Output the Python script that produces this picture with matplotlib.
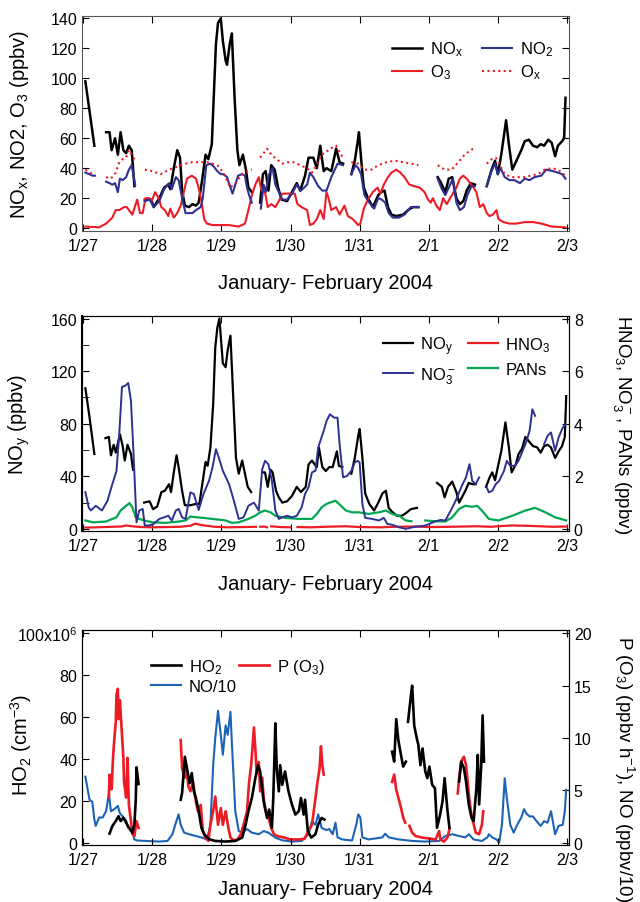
import numpy as np
import matplotlib
matplotlib.use("Agg")
import matplotlib.pyplot as plt

plt.rcParams['font.family'] = ['Liberation Sans', 'DejaVu Sans']
plt.rcParams['mathtext.default'] = 'regular'

# ---------------- panel 1: NOx, NO2, O3, Ox (ppbv), x in days since 1/27
nox_t = [[0.03, 0.16],
         [0.33, 0.38, 0.41, 0.46, 0.50, 0.54, 0.58, 0.62, 0.66, 0.70, 0.74],
         [0.89, 0.98, 1.02, 1.10, 1.17, 1.23, 1.26, 1.31, 1.36, 1.40, 1.43, 1.47, 1.53, 1.58, 1.63, 1.67, 1.72, 1.77,
          1.81, 1.86, 1.89, 1.92, 1.95, 1.99, 2.02, 2.06, 2.08, 2.12, 2.15, 2.19, 2.23, 2.26, 2.31, 2.35, 2.39, 2.44],
         [2.56, 2.60, 2.64, 2.68, 2.72, 2.77, 2.82, 2.87, 2.95, 3.02, 3.09, 3.14, 3.21, 3.26, 3.33, 3.38, 3.43, 3.48,
          3.52, 3.59, 3.66, 3.71, 3.76],
         [3.88, 3.93, 3.97, 3.99, 4.02, 4.06, 4.12, 4.19, 4.27, 4.31, 4.36, 4.41, 4.46, 4.53, 4.63, 4.70, 4.77, 4.85],
         [5.13, 5.18, 5.24, 5.29, 5.34, 5.40, 5.45, 5.50, 5.55, 5.61, 5.67],
         [5.84, 5.91, 5.96, 6.00, 6.05, 6.12, 6.16, 6.21, 6.27, 6.34, 6.39, 6.45, 6.51, 6.57, 6.62, 6.67, 6.73, 6.78,
          6.83, 6.87, 6.93, 6.96, 6.98]]
nox_v = [[98, 55],
         [64, 64, 52, 60, 49, 64, 52, 50, 55, 52, 28],
         [19, 19, 14, 20, 27, 29, 26, 40, 52, 47, 25, 15, 14, 16, 15, 17, 32, 49,
          46, 56, 89, 123, 137, 140, 125, 112, 109, 123, 130, 87, 52, 42, 49, 40, 27, 24],
         [17, 36, 38, 25, 42, 39, 27, 19, 18, 24, 30, 25, 35, 47, 47, 40, 55, 38,
          40, 38, 53, 44, 43],
         [36, 45, 57, 64, 47, 27, 20, 14, 22, 24, 25, 14, 9, 8, 9, 12, 14, 14],
         [34, 30, 24, 33, 34, 20, 16, 18, 25, 30, 29],
         [28, 39, 45, 36, 49, 72, 56, 39, 45, 52, 58, 59, 55, 54, 56, 55, 59, 57,
          48, 55, 58, 60, 87]]

no2_t = [[0.03, 0.09, 0.13, 0.17],
         [0.33, 0.38, 0.42, 0.46, 0.50, 0.53, 0.57, 0.62, 0.66, 0.70, 0.75],
         [0.89, 0.96, 1.02, 1.10, 1.17, 1.24, 1.28, 1.34, 1.38, 1.43, 1.48, 1.58, 1.63, 1.70, 1.73, 1.78, 1.84, 1.89,
          1.94, 1.99, 2.03, 2.08, 2.13, 2.16, 2.20, 2.24, 2.30, 2.34, 2.37, 2.40, 2.44],
         [2.57, 2.61, 2.64, 2.69, 2.74, 2.78, 2.83, 2.88, 2.95, 3.02, 3.09, 3.15, 3.24, 3.28, 3.33, 3.40, 3.46, 3.52,
          3.59, 3.68, 3.76],
         [3.88, 3.94, 3.98, 4.02, 4.07, 4.14, 4.21, 4.27, 4.32, 4.37, 4.42, 4.48, 4.57, 4.65, 4.74, 4.80, 4.85],
         [5.13, 5.19, 5.24, 5.30, 5.35, 5.40, 5.45, 5.51, 5.56, 5.62, 5.67],
         [5.84, 5.90, 5.96, 6.00, 6.04, 6.10, 6.17, 6.24, 6.32, 6.39, 6.46, 6.53, 6.63, 6.70, 6.80, 6.87, 6.93, 6.98]]
no2_v = [[37, 36, 35, 35],
         [31, 30, 29, 30, 24, 33, 32, 34, 39, 42, 29],
         [18, 19, 14, 18, 26, 30, 26, 34, 32, 20, 10, 10, 12, 14, 20, 42, 43, 41,
          38, 36, 36, 34, 27, 23, 29, 35, 36, 35, 27, 22, 17],
         [13, 29, 24, 36, 40, 29, 24, 19, 19, 23, 29, 25, 29, 37, 34, 28, 25, 25,
          34, 43, 42],
         [36, 42, 40, 36, 22, 17, 13, 20, 19, 17, 10, 7, 7, 9, 14, 14, 14],
         [33, 26, 22, 28, 33, 17, 12, 14, 22, 28, 28],
         [28, 37, 43, 36, 40, 34, 32, 32, 30, 33, 32, 34, 35, 39, 38, 37, 36, 33]]

o3_t = [[0.03, 0.23, 0.33, 0.42, 0.47, 0.52, 0.59, 0.63, 0.66, 0.71, 0.78, 0.82, 0.86, 0.90, 0.95, 0.99, 1.04, 1.09,
         1.13, 1.18, 1.23, 1.26, 1.31, 1.36, 1.41, 1.46, 1.50, 1.57, 1.63, 1.67, 1.71, 1.75, 1.79, 1.87, 1.96, 2.11,
         2.25, 2.34, 2.39, 2.44, 2.49, 2.54, 2.58, 2.63, 2.67, 2.72, 2.78, 2.83, 2.88, 2.97, 3.06, 3.10, 3.16, 3.24,
         3.28, 3.33, 3.38, 3.43, 3.48, 3.52, 3.55, 3.59, 3.66, 3.71, 3.78, 3.83, 3.90, 3.98, 4.01, 4.06, 4.12, 4.19,
         4.26, 4.30, 4.35, 4.41, 4.46, 4.53, 4.59, 4.65, 4.72, 4.79, 4.87, 4.94, 4.99, 5.03, 5.06, 5.11, 5.16, 5.21,
         5.26, 5.31, 5.35, 5.40, 5.45, 5.50, 5.55, 5.60, 5.65, 5.69, 5.74, 5.79, 5.84, 5.88, 5.93, 5.98, 6.01, 6.08,
         6.17, 6.27, 6.39, 6.51, 6.63, 6.78, 6.98]]
o3_v = [[1, 0.5, 3, 7, 12, 12, 14, 14, 12, 9, 19, 10, 10, 20, 20, 18, 24, 20,
         14, 12, 8, 13, 7, 10, 15, 25, 33, 35, 33, 27, 18, 6, 3, 2, 2, 2,
         1, 3, 12, 22, 29, 34, 25, 24, 14, 16, 14, 18, 23, 23, 23, 16, 14, 12,
         2, 3, 6, 12, 6, 24, 20, 12, 14, 9, 15, 8, 6, 2, 3, 13, 19, 24,
         27, 23, 29, 34, 37, 39, 37, 34, 29, 28, 27, 24, 19, 17, 20, 15, 12, 20,
         16, 20, 23, 27, 33, 35, 33, 30, 27, 24, 14, 16, 10, 8, 9, 12, 6, 4,
         3, 3, 4, 4, 3, 1, 0.5]]

ox_t = [[0.03, 0.10, 0.16],
        [0.33, 0.40, 0.47, 0.52, 0.57, 0.62, 0.66, 0.70, 0.75],
        [0.89, 1.00, 1.12, 1.24, 1.36, 1.48, 1.58, 1.67, 1.79, 1.87, 1.94, 2.01, 2.08, 2.13, 2.20, 2.30, 2.37, 2.44],
        [2.56, 2.61, 2.66, 2.72, 2.80, 2.88, 2.97, 3.04, 3.14, 3.24, 3.31, 3.38, 3.45, 3.52, 3.57, 3.66, 3.73, 3.76],
        [3.88, 3.98, 4.07, 4.17, 4.27, 4.39, 4.51, 4.63, 4.75, 4.85],
        [5.13, 5.23, 5.33, 5.43, 5.52, 5.64],
        [5.84, 5.91, 5.97, 6.03, 6.10, 6.20, 6.29, 6.39, 6.48, 6.58, 6.68, 6.78, 6.87, 6.98]]
ox_v = [[39, 37, 35],
        [34, 33, 37, 44, 46, 47, 52, 49, 45],
        [39, 38, 36, 39, 41, 43, 44, 44, 44, 43, 42, 38, 32, 27, 30, 36, 38, 39],
        [47, 50, 53, 49, 46, 43, 44, 44, 42, 40, 37, 42, 49, 51, 53, 55, 49, 47],
        [44, 43, 39, 39, 42, 44, 45, 44, 43, 42],
        [42, 39, 39, 44, 49, 53],
        [43, 46, 47, 42, 36, 34, 34, 34, 35, 36, 39, 40, 39, 35]]

# ---------------- panel 2: NOy (left, ppbv); HNO3, NO3-, PANs (right, ppbv)
noy_t = [[0.03, 0.09, 0.16],
         [0.32, 0.37, 0.40, 0.44, 0.47, 0.53, 0.57, 0.60, 0.64, 0.69, 0.72],
         [0.88, 0.96, 1.01, 1.07, 1.13, 1.18, 1.24, 1.27, 1.31, 1.35, 1.38, 1.43, 1.47, 1.55, 1.63, 1.68, 1.73, 1.77,
          1.80, 1.84, 1.88, 1.91, 1.94, 1.97, 2.00, 2.02, 2.06, 2.09, 2.13, 2.17, 2.21, 2.25, 2.30, 2.34, 2.38, 2.43],
         [2.60, 2.63, 2.67, 2.71, 2.74, 2.79, 2.83, 2.88, 2.95, 3.02, 3.09, 3.15, 3.22, 3.26, 3.31, 3.35, 3.38, 3.41,
          3.46, 3.51, 3.56, 3.61, 3.67, 3.70, 3.75],
         [3.88, 3.93, 3.98, 4.00, 4.04, 4.08, 4.14, 4.21, 4.27, 4.33, 4.38, 4.42, 4.47, 4.54, 4.61, 4.67, 4.74, 4.83],
         [5.12, 5.19, 5.23, 5.28, 5.34, 5.40, 5.44, 5.48, 5.53, 5.58, 5.63, 5.68],
         [5.83, 5.88, 5.92, 5.96, 6.00, 6.05, 6.11, 6.16, 6.20, 6.26, 6.30, 6.35, 6.40, 6.46, 6.51, 6.57, 6.62, 6.67,
          6.72, 6.77, 6.83, 6.88, 6.93, 6.97, 6.99]]
noy_v = [[107, 85, 57],
         [69, 70, 56, 64, 58, 72, 63, 52, 64, 57, 45],
         [20, 21, 15, 17, 28, 29, 34, 28, 43, 56, 47, 29, 18, 18, 19, 19, 37, 51,
          48, 62, 95, 138, 153, 160, 140, 126, 123, 136, 147, 100, 54, 42, 52, 42, 32, 28],
         [43, 43, 32, 45, 43, 29, 24, 20, 21, 25, 32, 28, 32, 49, 52, 49, 47, 62,
          47, 44, 47, 47, 59, 48, 47],
         [42, 54, 71, 76, 54, 27, 19, 14, 20, 27, 29, 16, 13, 10, 10, 12, 15, 16],
         [35, 32, 24, 32, 36, 28, 20, 24, 29, 35, 34, 34],
         [32, 39, 43, 37, 47, 59, 81, 62, 43, 49, 57, 61, 70, 66, 63, 62, 58, 63,
          64, 62, 54, 59, 63, 70, 101]]

no3_t = [[0.03, 0.08, 0.11, 0.18, 0.27, 0.35, 0.42, 0.48, 0.52, 0.56, 0.61, 0.65, 0.69, 0.73, 0.77, 0.81, 0.86, 0.89,
          0.95, 1.02, 1.10, 1.17, 1.23, 1.28, 1.34, 1.38, 1.43, 1.48, 1.55, 1.60, 1.67, 1.74, 1.82, 1.87, 1.92, 1.96,
          2.02, 2.11, 2.18, 2.25, 2.32, 2.39, 2.47, 2.54, 2.59, 2.63, 2.68, 2.73, 2.78, 2.83, 2.88, 2.95, 3.02, 3.09,
          3.16, 3.21, 3.26, 3.31, 3.36, 3.40, 3.48, 3.52, 3.57, 3.63, 3.68, 3.71, 3.76, 3.82, 3.88, 3.93, 3.97, 4.00,
          4.04, 4.08, 4.18, 4.28, 4.35, 4.40, 4.47, 4.57, 4.67],
         [4.70, 4.80, 4.94, 5.10, 5.17, 5.24, 5.32, 5.39, 5.44, 5.49, 5.54, 5.59, 5.63, 5.68, 5.73],
         [5.84, 5.87, 5.92, 5.97, 6.02, 6.09, 6.13, 6.18, 6.25, 6.30, 6.36, 6.41, 6.46, 6.50, 6.54],
         [6.67, 6.72, 6.77, 6.83, 6.88, 6.94, 6.98]]
no3_v = [[1.4, 0.8, 0.7, 0.88, 0.7, 1.07, 1.7, 2.2, 3.6, 5.4, 5.45, 5.55, 4.87, 2.7, 0.25, 0.7, 0.76, 0.13,
          0.13, 0.19, 0.38, 0.44, 0.5, 0.32, 0.7, 0.76, 0.44, 0.38, 1.39, 1.33, 0.72, 1.33, 1.83, 2.34, 3.03, 2.72,
          2.21, 1.7, 1.07, 0.38, 0.44, 0.88, 1.0, 0.7, 2.27, 2.59, 2.46, 1.83, 0.7, 0.38, 0.44, 0.5, 0.44, 0.5,
          0.82, 1.33, 1.58, 2.15, 2.21, 3.1, 3.73, 4.1, 4.36, 4.23, 4.23, 3.22, 1.96, 2.02, 2.21, 2.53, 2.59, 2.53,
          0.95, 0.42, 0.38, 0.32, 0.42, 0.19, 0.16, 0.06, 0.0],
         [0.02, 0.08, 0.12, 0.29, 0.34, 0.32, 0.7, 1.07, 1.39, 1.7, 1.96, 2.46, 1.83, 1.7, 1.96],
         [1.58, 1.39, 1.45, 1.7, 1.83, 2.21, 2.59, 2.4, 2.4, 2.59, 2.97, 3.29, 3.73, 4.55, 4.3],
         [3.22, 3.54, 3.67, 2.97, 3.48, 3.85, 3.98]]

pans_t = [[0.03, 0.14, 0.33, 0.42, 0.48, 0.54, 0.62, 0.67, 0.71, 0.76, 0.81, 0.88, 1.00, 1.19, 1.38, 1.48, 1.55, 1.65,
           1.87, 2.06, 2.15, 2.25, 2.39, 2.49, 2.56, 2.63, 2.71, 2.78, 2.92, 3.12, 3.31, 3.38, 3.45, 3.52, 3.58, 3.65,
           3.73, 3.80, 3.89, 3.99, 4.13, 4.28, 4.38, 4.47, 4.57, 4.67, 4.75],
          [4.95, 5.10, 5.24, 5.34, 5.44, 5.53, 5.63, 5.70, 5.77, 5.87, 6.01, 6.21, 6.40, 6.54, 6.69, 6.83, 6.99]]
pans_v = [[0.32, 0.25, 0.28, 0.38, 0.44, 0.7, 0.88, 0.98, 0.82, 0.44, 0.38, 0.32, 0.25, 0.23, 0.28, 0.32, 0.47, 0.44,
           0.38, 0.32, 0.23, 0.25, 0.38, 0.5, 0.63, 0.7, 0.63, 0.5, 0.42, 0.38, 0.38, 0.57, 0.82, 0.95, 1.01, 1.07,
           0.88, 0.7, 0.63, 0.63, 0.57, 0.63, 0.7, 0.57, 0.5, 0.32, 0.29],
          [0.32, 0.29, 0.28, 0.44, 0.76, 0.88, 0.84, 0.88, 0.7, 0.38, 0.32, 0.5, 0.7, 0.8, 0.63, 0.44, 0.32]]

hno3_t = [[0.03, 0.2, 0.4, 0.55, 0.62, 0.7, 0.85, 1.0, 1.2, 1.4, 1.55, 1.62, 1.7, 1.9, 2.1, 2.3, 2.5],
          [2.56, 2.62, 2.66],
          [2.72, 2.85, 3.0],
          [3.1, 3.3, 3.5, 3.8, 4.0, 4.3, 4.5, 4.8, 5.0, 5.3, 5.5, 5.7, 5.9, 6.0, 6.2, 6.4, 6.6, 6.8, 7.0]]
hno3_v = [[0.05, 0.06, 0.08, 0.09, 0.13, 0.1, 0.07, 0.06, 0.07, 0.08, 0.12, 0.2, 0.15, 0.08, 0.06, 0.07, 0.08],
          [0.08, 0.09, 0.06],
          [0.1, 0.07, 0.06],
          [0.07, 0.06, 0.08, 0.1, 0.07, 0.06, 0.08, 0.09, 0.07, 0.08, 0.09, 0.1, 0.08, 0.1, 0.13, 0.12, 0.1, 0.08, 0.09]]

# ---------------- panel 3: HO2 (left, 1e6 cm-3); P(O3), NO/10 (right)
ho2_t = [[0.38, 0.42, 0.47, 0.51, 0.54, 0.58, 0.62, 0.66, 0.71, 0.74, 0.76, 0.77, 0.80],
         [1.41, 1.43, 1.47, 1.50, 1.54, 1.57, 1.60, 1.63, 1.67, 1.71, 1.75, 1.82, 1.91, 2.06, 2.20, 2.30, 2.35, 2.39,
          2.44, 2.49, 2.53, 2.56, 2.61, 2.66, 2.69, 2.73, 2.75, 2.78, 2.80, 2.83, 2.85, 2.88, 2.92, 2.97, 3.02, 3.07,
          3.12, 3.15, 3.19, 3.21, 3.25, 3.30, 3.36, 3.40, 3.45, 3.49],
         [4.47, 4.50, 4.53, 4.56, 4.59, 4.63, 4.67],
         [4.70, 4.74, 4.76, 4.79, 4.82, 4.85, 4.88, 4.91, 4.95, 4.98, 5.01, 5.05, 5.09, 5.12, 5.16, 5.20, 5.23, 5.27,
          5.30],
         [5.44, 5.47, 5.51, 5.54, 5.58, 5.62, 5.65, 5.69, 5.71, 5.73, 5.76, 5.78, 5.80]]
ho2_v = [[4.3, 7.9, 10.3, 12.6, 10.3, 11.8, 9.5, 7.1, 4.7, 8.7, 21, 36, 28],
         [20.5, 23.7, 41, 35.5, 28.4, 33.2, 24.5, 21.3, 15, 7.1, 4, 1.6, 0.8, 0.5, 0.8, 2.4, 8.7, 15,
          21.3, 30.8, 37, 34, 19.7, 11.8, 15.8, 7.1, 21.3, 57, 35.5, 24.5, 37, 27.6, 34, 24.5, 18.2, 13.4,
          15, 21.3, 13.4, 20.5, 5.5, 2.4, 4, 8.7, 11.8, 11],
         [43.4, 38.7, 59, 49, 43.4, 36.3, 38.7],
         [57.7, 69.5, 75, 56, 51, 46.6, 37, 45, 34, 30.8, 36.3, 27.6, 26, 7.1, 12.6, 19.7, 30.8, 15.8,
          7.1],
         [29.2, 38.7, 35.5, 29.2, 18.2, 11.8, 10.3, 26, 41.9, 18.2, 37, 60.8, 38.7]]

po3_t = [[0.37, 0.38, 0.41, 0.43, 0.45, 0.47, 0.48, 0.50, 0.51, 0.53, 0.54, 0.56, 0.58, 0.59, 0.62, 0.64, 0.66, 0.69,
          0.71, 0.74, 0.77, 0.80],
         [1.41, 1.43, 1.47, 1.49, 1.52, 1.55, 1.59, 1.63, 1.66, 1.70, 1.73, 1.77, 1.81, 1.84, 1.88, 1.91, 1.95, 1.99,
          2.02, 2.06, 2.10, 2.13, 2.18, 2.23, 2.28, 2.32, 2.37, 2.40, 2.43, 2.47, 2.49, 2.51, 2.54, 2.56, 2.59, 2.61,
          2.64, 2.68, 2.72, 2.76, 2.82, 2.90, 3.00, 3.10, 3.20, 3.26, 3.31, 3.36, 3.39, 3.42, 3.44, 3.46, 3.48],
         [4.47, 4.50, 4.53, 4.56, 4.60, 4.63, 4.66],
         [4.72, 4.76, 4.81, 4.91, 5.00, 5.10, 5.15, 5.17, 5.22, 5.27, 5.30],
         [5.42, 5.44, 5.47, 5.49, 5.51, 5.54, 5.56, 5.58, 5.61, 5.64, 5.68, 5.73, 5.77, 5.79]]
po3_v = [[4.3, 6.5, 5.1, 8.1, 10, 11.5, 14.1, 14.7, 11.8, 13.6, 12.5, 10.3, 8.1, 5.8, 4.3, 8.1, 3.6, 2.05,
          0.8, 0.63, 2.05, 1.4],
         [9.8, 7.1, 6.2, 7.4, 5.4, 4.9, 5.8, 3.9, 3.0, 3.6, 1.1, 0.47, 0.16, 1.7, 3.0, 4.4, 1.7, 3.3,
          1.7, 3.0, 1.4, 0.47, 0.22, 0.3, 0.8, 1.7, 3.0, 5.8, 7.4, 11, 9.0, 6.6, 7.7, 4.9, 6.2, 4.3,
          3.0, 2.4, 1.4, 0.8, 0.6, 0.5, 0.3, 0.3, 0.35, 1.1, 1.7, 4.2, 5.8, 7.1, 9.2, 7.4, 6.5],
         [5.8, 6.5, 5.05, 4.3, 3.3, 2.4, 1.9],
         [1.6, 0.95, 0.63, 0.47, 0.4, 0.3, 1.1, 0.3, 0.1, 0.47, 1.3],
         [4.7, 6.15, 7.7, 8.0, 8.2, 7.4, 6.15, 4.6, 3.0, 2.05, 0.95, 0.8, 1.7, 3.0]]

no10_t = [[0.03, 0.06, 0.09, 0.13, 0.16, 0.18, 0.23, 0.28, 0.33, 0.37, 0.40, 0.45, 0.50, 0.53, 0.57, 0.62, 0.65, 0.70,
           0.74, 0.78, 0.90, 1.10, 1.22, 1.29, 1.34, 1.38, 1.41, 1.46, 1.53, 1.63, 1.72, 1.79, 1.84, 1.88, 1.91, 1.95,
           1.99, 2.02, 2.06, 2.09, 2.13, 2.15, 2.20, 2.25, 2.30, 2.37, 2.44, 2.54, 2.61, 2.68, 2.78, 2.88, 3.02, 3.16,
           3.26, 3.31, 3.36, 3.40, 3.45, 3.52, 3.56, 3.61, 3.65, 3.68, 3.75, 3.89, 3.95, 3.98, 4.01, 4.04, 4.13, 4.33,
           4.37, 4.42, 4.57, 4.76, 4.94, 5.15, 5.24, 5.34, 5.44, 5.53, 5.58, 5.65, 5.77, 5.85, 5.87, 5.92, 5.98, 6.02,
           6.06, 6.10, 6.13, 6.18, 6.23, 6.28, 6.34, 6.38, 6.41, 6.46, 6.51, 6.56, 6.62, 6.67, 6.72, 6.77, 6.83, 6.88,
           6.94, 6.97, 6.99]]
no10_v = [[6.3, 5.2, 4.1, 3.9, 2.2, 1.6, 2.4, 2.4, 3.0, 4.7, 3.0, 3.2, 3.5, 2.8, 2.5, 2.1, 1.4, 1.3,
           0.3, 0.2, 0.16, 0.1, 0.16, 0.8, 1.9, 2.7, 1.7, 0.95, 0.8, 0.63, 0.47, 0.3, 1.7, 7.4, 10, 12.6,
           10.3, 8.4, 11.2, 10.3, 12.5, 9.6, 3.0, 1.1, 0.95, 1.3, 0.95, 0.8, 1.1, 0.95, 0.47, 0.22, 0.1, 0.16,
           0.8, 2.05, 1.7, 2.7, 1.4, 1.2, 1.3, 0.8, 1.9, 0.5, 0.3, 0.2, 1.7, 2.7, 2.4, 0.5, 0.3, 0.5,
           0.85, 0.5, 0.3, 0.16, 0.1, 0.16, 0.63, 0.8, 0.63, 0.5, 0.8, 0.3, 0.16, 0.5, 0.8, 0.5, 0.3, 0.0,
           1.7, 6.15, 4.3, 1.7, 0.95, 1.7, 2.4, 3.2, 2.8, 2.5, 2.5, 2.05, 1.6, 2.05, 1.9, 3.0, 0.8, 1.6,
           1.7, 3.0, 5.05]]

day_labels = ['1/27', '1/28', '1/29', '1/30', '1/31', '2/1', '2/2', '2/3']

BLACK = '#000000'
RED = '#ed1c24'
NAVY = '#2e3192'
GREEN = '#00a651'
BLUE = '#1b63b5'
LAB = 14.5
TICK = 11.5


def join(ts, vs):
    t, v = [], []
    for a, b in zip(ts, vs):
        t += list(a) + [np.nan]
        v += list(b) + [np.nan]
    return np.array(t, dtype=float), np.array(v, dtype=float)


def style_x(ax):
    ax.set_xlim(-0.02, 7.03)
    ax.set_xticks(range(8))
    ax.set_xticklabels(day_labels)
    ax.tick_params(axis='x', direction='in', top=True, length=5, labelsize=TICK, pad=5)


def legend(ax, handles, x, y, spacing, colsp=1.0):
    ax.legend(handles, [l.get_label() for l in handles], loc='upper left', bbox_to_anchor=(x, y), ncol=2,
              frameon=False, fontsize=12, handlelength=1.8, columnspacing=colsp, handletextpad=0.45,
              labelspacing=spacing, borderpad=0, borderaxespad=0)


fig = plt.figure(figsize=(6.4, 9.03), dpi=100)
L, W, H = 0.128, 0.761, 0.238

# ---------- panel 1
ax1 = fig.add_axes([L, 0.743, W, H])
l_nox, = ax1.plot(*join(nox_t, nox_v), color=BLACK, lw=1.8, label='NO$_x$')
l_o3, = ax1.plot(*join(o3_t, o3_v), color=RED, lw=1.5, label='O$_3$')
l_no2, = ax1.plot(*join(no2_t, no2_v), color=NAVY, lw=1.5, label='NO$_2$')
l_ox, = ax1.plot(*join(ox_t, ox_v), color=RED, lw=1.5, ls=(0, (1, 1.6)), label='O$_x$')
style_x(ax1)
ax1.set_ylim(-2, 141.5)
ax1.set_yticks(range(0, 141, 20))
ax1.tick_params(axis='y', direction='in', right=True, length=5, labelsize=TICK)
for s in ax1.spines.values():
    s.set_color('#555555')
ax1.set_ylabel('NO$_x$, NO2, O$_3$ (ppbv)', fontsize=LAB, va='center')
ax1.yaxis.set_label_coords(-0.129, 0.5)
legend(ax1, [l_nox, l_o3, l_no2, l_ox], 0.637, 0.89, 0.25, 1.2)

# ---------- panel 2
ax2 = fig.add_axes([L, 0.411, W, H])
ax2r = ax2.twinx()
l_noy, = ax2.plot(*join(noy_t, noy_v), color=BLACK, lw=1.6, label='NO$_y$')
l_pan, = ax2r.plot(*join(pans_t, pans_v), color=GREEN, lw=1.6, label='PANs')
l_hno3, = ax2r.plot(*join(hno3_t, hno3_v), color=RED, lw=1.6, label='HNO$_3$')
l_no3, = ax2r.plot(*join(no3_t, no3_v), color=NAVY, lw=1.4, label='NO$_3^-$')
style_x(ax2)
ax2.set_ylim(-1.5, 162)
ax2.set_yticks(range(0, 161, 40))
ax2.set_yticks(range(0, 161, 20), minor=True)
ax2.tick_params(axis='y', which='both', direction='in', length=5, labelsize=TICK)
ax2r.set_ylim(-1.5 / 20, 8.1)
ax2r.set_yticks(range(0, 9, 2))
ax2r.tick_params(axis='y', direction='in', length=5, labelsize=TICK)
ax2.spines['left'].set_linewidth(1.5)
ax2.set_ylabel('NO$_y$ (ppbv)', fontsize=LAB, va='center')
ax2.yaxis.set_label_coords(-0.129, 0.5)
ax2r.set_ylabel('HNO$_3$, NO$_3^-$, PANs (ppbv)', fontsize=13.5, rotation=270, va='center', ha='center')
ax2r.yaxis.set_label_coords(1.109, 0.5)
legend(ax2r, [l_noy, l_no3, l_hno3, l_pan], 0.618, 0.915, 0.5, 0.7)

# ---------- panel 3
ax3 = fig.add_axes([L, 0.063, W, H])
ax3r = ax3.twinx()
l_no10, = ax3r.plot(*join(no10_t, no10_v), color=BLUE, lw=1.5, label='NO/10')
l_ho2, = ax3.plot(*join(ho2_t, ho2_v), color=BLACK, lw=1.9, label='HO$_2$')
l_po3, = ax3r.plot(*join(po3_t, po3_v), color=RED, lw=1.9, label='P (O$_3$)')
ax3.set_zorder(ax3r.get_zorder() + 1)
ax3.patch.set_visible(False)
style_x(ax3)
ax3.set_ylim(-1.2, 101.5)
ax3.set_yticks(range(0, 101, 20))
ax3.set_yticklabels(['0', '20', '40', '60', '80', '100x10$^6$'])
ax3.tick_params(axis='y', direction='in', length=5, labelsize=TICK)
ax3r.set_ylim(-1.2 / 5, 101.5 / 5)
ax3r.set_yticks(range(0, 21, 5))
ax3r.tick_params(axis='y', direction='in', length=5, labelsize=TICK)
ax3.set_ylabel('HO$_2$ (cm$^{-3}$)', fontsize=LAB, va='center')
ax3.yaxis.set_label_coords(-0.125, 0.47)
ax3r.set_ylabel('P (O$_3$) (ppbv h$^{-1}$), NO (ppbv/10)', fontsize=13.5, rotation=270,
                va='center', ha='center')
ax3r.yaxis.set_label_coords(1.113, 0.36)
legend(ax3, [l_ho2, l_no10, l_po3], 0.142, 0.875, 0.2, 0.15)

for y in (0.6855, 0.353, 0.0144):
    fig.text(0.508, y, 'January- February 2004', ha='center', va='center', fontsize=LAB)

fig.savefig('out.png', dpi=100)
